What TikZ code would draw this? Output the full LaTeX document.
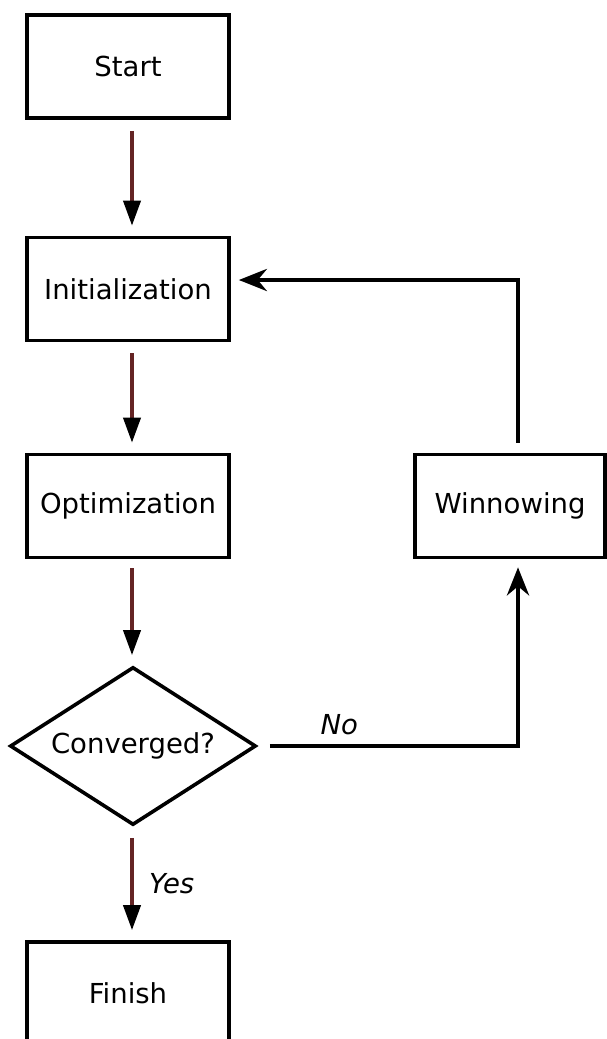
\documentclass[tikz,border=0pt]{standalone}
\usepackage{fontspec}
\setmainfont{DejaVu Sans}
\usetikzlibrary{shapes.geometric,arrows.meta}
\definecolor{flowred}{RGB}{100,36,36}
\tikzset{
  label font/.style={font=\fontsize{27.5}{33}\selectfont},
  box/.style={draw=black, line width=3.6pt, fill=white, minimum width=202pt,
    minimum height=103pt, inner sep=0pt, label font},
  decision/.style={draw=black, line width=3.6pt, diamond, aspect=1.56,
    minimum width=246pt, minimum height=158pt, inner sep=0pt, label font},
  flow/.style={draw=flowred, line width=3.8pt,
    -{Triangle[length=25pt, width=17pt, color=black]}},
  loop/.style={draw=black, line width=4.5pt,
    -{Stealth[length=28pt, width=22pt, inset=9pt]}},
  tag/.style={font=\fontsize{27.5}{33}\selectfont\itshape},
}
\begin{document}
\begin{tikzpicture}[x=1pt, y=-1pt]
  \useasboundingbox (0,0) rectangle (606,1039);

  % process steps
  \node[box] (start) at (128,66.5) {Start};
  \node[box] (init)  at (128,289)  {Initialization};
  \node[box] (opt)   at (128,506)  {Optimization};
  \node[box, minimum width=190pt] (winn) at (510,506) {Winnowing};
  \node[decision] (conv) at (133,746) {Converged?};
  \node[box] (finish) at (128,993.5) {Finish};

  % corner points of the feedback loop
  \coordinate (nocorner) at (518,746);
  \coordinate (backcorner) at (518,280);

  % main downward flow
  \draw[flow, shorten <=11pt, shorten >=10pt] (start.south -| 132,0) -- (init.north -| 132,0);
  \draw[flow, shorten <=11pt, shorten >=10pt] (init.south -| 132,0) -- (opt.north -| 132,0);
  \draw[flow, shorten <=9pt, shorten >=10pt] (opt.south -| 132,0) -- (conv.north -| 132,0);
  \draw[flow, shorten <=11pt, shorten >=10pt] (conv.south -| 132,0) -- (finish.north -| 132,0)
    node[tag, midway, right=12pt] {Yes};

  % not converged: winnow, then start over
  \draw[loop, shorten >=8pt] ([xshift=12pt]conv.east) -- (nocorner)
    node[tag, pos=0.28, above=6pt] {No}
    -- (winn.south -| nocorner);
  \draw[loop, shorten <=10pt, shorten >=8pt] (winn.north -| nocorner) -- (backcorner)
    -- (backcorner -| init.east);
\end{tikzpicture}
\end{document}
